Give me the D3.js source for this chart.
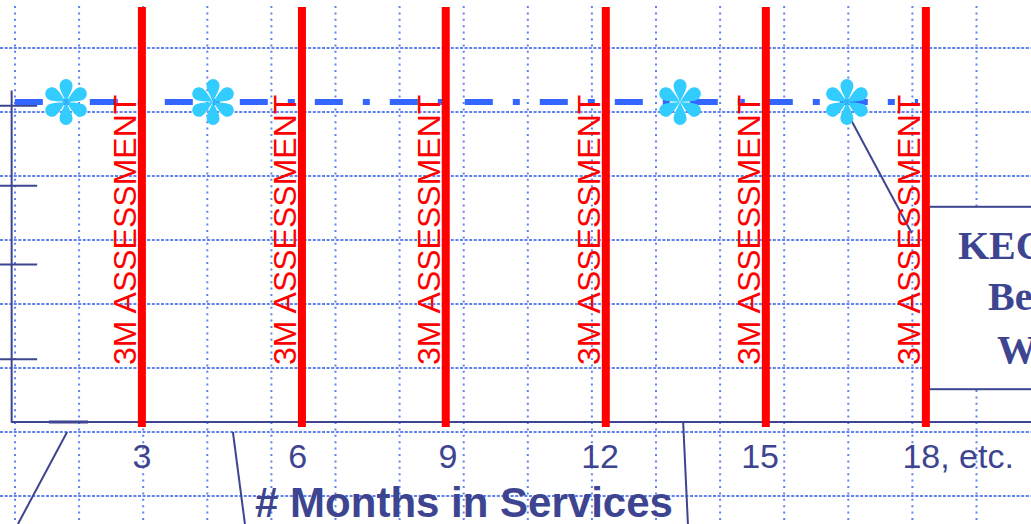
<!DOCTYPE html>
<html><head><meta charset="utf-8">
<script src="https://cdn.jsdelivr.net/npm/d3@7"></script>
<style>
html,body{margin:0;padding:0;background:#fff;overflow:hidden}
svg{display:block}
</style></head>
<body>
<svg id="chart" width="1031" height="524"></svg>
<script>
// ---- data (months on x, level on y) ----
const assessmentMonths = [3, 6.06, 8.81, 11.87, 14.93, 17.99];
const assessmentLabel = "3M ASSESSMENT";
const tickMonths = [3, 5.98, 8.85, 11.76, 14.82, 18];
const tickLabels = ["3", "6", "9", "12", "15", "18, etc."];
const yTickValues = [0.79, 1.975, 2.96, 3.96];
const baselineSeries = [[0.57, 4], [17.84, 4]];
const markerMonths = [1.55, 4.36, 13.29, 16.48];
const markerLevel = 4;
const callouts = [
  [[1.57, -0.125], [0.63, -1.275]],
  [[4.74, -0.125], [4.97, -1.275]],
  [[13.35, -0.0125], [13.44, -1.275]],
  [[16.54, 3.8], [17.72, 2.36]]
];
const axisSegment = [[1.22, 0], [1.97, 0]];
const boxExtent = [[18.05, 2.69], [20.2, 0.41]];
const boxLines = ["KEC", "Be", "W"];
const xTitle = "# Months in Services";

// ---- setup ----
const W = 1031, H = 524;
const svg = d3.select("#chart");
const x = d3.scaleLinear().domain([0, 20]).range([-15, 1031]);
const y = d3.scaleLinear().domain([0, 4.15]).range([422, 90]);
const navy = "#3d4490", grid = "#5f82f0";

// background grid (slide grid)
const gG = svg.append("g");
gG.selectAll("line.v").data(d3.range(15, W + 10, 64.1)).join("line")
  .attr("x1", d => d).attr("x2", d => d).attr("y1", 6).attr("y2", H)
  .attr("stroke", grid).attr("stroke-width", 2).attr("stroke-dasharray", "2,4.4");
gG.selectAll("line.h").data(d3.range(48, H, 64)).join("line")
  .attr("x1", 0).attr("x2", W).attr("y1", d => d).attr("y2", d => d)
  .attr("stroke", grid).attr("stroke-width", 2).attr("stroke-dasharray", "3,1.6");

// axes
const yAxis = d3.axisLeft(y).tickValues(yTickValues).tickSize(0).tickFormat("");
const ya = svg.append("g").attr("transform", `translate(${x(0.5)},0)`).call(yAxis);
ya.select(".domain").attr("stroke", navy).attr("stroke-width", 2);
ya.selectAll(".tick line").attr("x1", -12).attr("x2", 26).attr("stroke", navy).attr("stroke-width", 2);

const xa = svg.append("g").attr("transform", `translate(0,${y(0)})`)
  .call(d3.axisBottom(x).tickValues([]).tickSizeOuter(0));
xa.select(".domain").attr("stroke", navy).attr("stroke-width", 2)
  .attr("d", `M${x(0.5)},0H${W}`);
svg.append("line")
  .attr("x1", x(axisSegment[0][0])).attr("x2", x(axisSegment[1][0]))
  .attr("y1", y(axisSegment[0][1])).attr("y2", y(axisSegment[1][1]))
  .attr("stroke", navy).attr("stroke-width", 3);

// callout leader lines
svg.append("g").selectAll("line").data(callouts).join("line")
  .attr("x1", d => x(d[0][0])).attr("y1", d => y(d[0][1]))
  .attr("x2", d => x(d[1][0])).attr("y2", d => y(d[1][1]))
  .attr("stroke", navy).attr("stroke-width", 2);

// callout box
svg.append("rect")
  .attr("x", x(boxExtent[0][0])).attr("y", y(boxExtent[0][1]))
  .attr("width", x(boxExtent[1][0]) - x(boxExtent[0][0]))
  .attr("height", y(boxExtent[1][1]) - y(boxExtent[0][1]))
  .attr("fill", "#fff").attr("stroke", navy).attr("stroke-width", 2);
const boxText = svg.append("g").attr("font-family", "'Liberation Serif', 'Times New Roman', serif")
  .attr("font-weight", "bold").attr("font-size", 40).attr("fill", navy);
const bx = x(boxExtent[0][0]);
[[29, 52], [59, 103], [68, 156]].forEach((o, i) => {
  boxText.append("text").attr("x", bx + o[0]).attr("y", y(boxExtent[0][1]) + o[1]).text(boxLines[i]);
});

// dash-dot baseline
svg.append("path").datum(baselineSeries)
  .attr("d", d3.line().x(d => x(d[0])).y(d => y(d[1])))
  .attr("fill", "none").attr("stroke", "#3366ff").attr("stroke-width", 6)
  .attr("stroke-dasharray", "28,20,7,20");

// asterisk markers
const petal = "M0,0 C-2.5,-6 -6.5,-12 -6.5,-16.5 A6.5,6.5 0 1 1 6.5,-16.5 C6.5,-12 2.5,-6 0,0 Z";
const mk = svg.append("g").selectAll("g").data(markerMonths).join("g")
  .attr("transform", d => `translate(${x(d)},${y(markerLevel)})`);
mk.selectAll("path").data(d3.range(0, 360, 60)).join("path")
  .attr("d", petal).attr("transform", a => `rotate(${a})`).attr("fill", "#33ccff");

// assessment lines + labels
const ag = svg.append("g").selectAll("g").data(assessmentMonths).join("g");
ag.append("line")
  .attr("x1", d => x(d)).attr("x2", d => x(d)).attr("y1", 7).attr("y2", y(0) + 5)
  .attr("stroke", "#ff0000").attr("stroke-width", 8);
ag.append("text")
  .attr("transform", d => `translate(${x(d) - 6},${y(0) - 57}) rotate(-90)`)
  .attr("font-family", "'Liberation Sans', Arial, sans-serif").attr("font-size", 32)
  .attr("fill", "#ff0000").text(assessmentLabel);

// tick labels
svg.append("g").selectAll("text").data(tickMonths).join("text")
  .attr("x", (d, i) => i === tickMonths.length - 1 ? x(d) - 24 : x(d))
  .attr("y", 468)
  .attr("text-anchor", (d, i) => i === tickMonths.length - 1 ? "start" : "middle")
  .attr("font-family", "'Liberation Sans', Arial, sans-serif").attr("font-size", 34)
  .attr("fill", navy).text((d, i) => tickLabels[i]);

// axis title
svg.append("text").attr("x", 464).attr("y", 517).attr("text-anchor", "middle")
  .attr("font-family", "'Liberation Sans', Arial, sans-serif").attr("font-weight", "bold")
  .attr("font-size", 42).attr("fill", navy).text(xTitle);
</script>
</body></html>
